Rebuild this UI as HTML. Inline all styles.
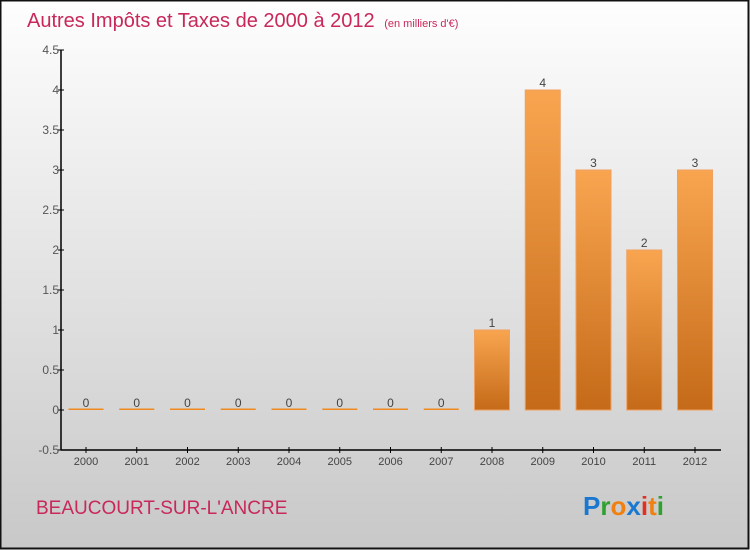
<!DOCTYPE html>
<html><head><meta charset="utf-8"><style>
body{margin:0;width:750px;height:550px;overflow:hidden}
svg{display:block;font-family:"Liberation Sans",sans-serif}
</style></head><body>
<svg width="750" height="550" xmlns="http://www.w3.org/2000/svg">
<defs>
<linearGradient id="bg" x1="0" y1="0" x2="0" y2="1"><stop offset="0" stop-color="#fefefe"/><stop offset="1" stop-color="#c8c8c8"/></linearGradient>
<linearGradient id="bar" x1="0" y1="0" x2="0" y2="1"><stop offset="0" stop-color="#f9a550"/><stop offset="1" stop-color="#c46a18"/></linearGradient>
</defs>
<rect x="0.5" y="0.5" width="748" height="548" fill="url(#bg)" stroke="#111" stroke-width="2"/>
<text x="27" y="27" font-size="20" fill="#c8285a">Autres Impôts et Taxes de 2000 à 2012 <tspan font-size="11" dx="4">(en milliers d'€)</tspan></text>
<g id="axes"></g>
<g id="bars"></g>
<text x="36" y="514" font-size="19" fill="#c8285a">BEAUCOURT-SUR-L'ANCRE</text>
<text x="583" y="515" font-size="26" font-weight="bold"><tspan fill="#1a78d0">P</tspan><tspan fill="#30a030">r</tspan><tspan fill="#f08010">o</tspan><tspan fill="#1a78d0">x</tspan><tspan fill="#e03020">i</tspan><tspan fill="#f08010">t</tspan><tspan fill="#30a030">i</tspan></text>
</svg>
<script>
const categories=["2000","2001","2002","2003","2004","2005","2006","2007","2008","2009","2010","2011","2012"];
const values=[0,0,0,0,0,0,0,0,1,4,3,2,3];
const yTicks=[-0.5,0,0.5,1,1.5,2,2.5,3,3.5,4,4.5];
const yTickLabels=["-0.5","0","0.5","1","1.5","2","2.5","3","3.5","4","4.5"];
const NS="http://www.w3.org/2000/svg";
const y=v=>410-v*80;
const x=i=>86+i*50.75;
function mk(t,a,p){const e=document.createElementNS(NS,t);for(const k in a)e.setAttribute(k,a[k]);p.appendChild(e);return e;}
const ax=document.getElementById('axes'),bg=document.getElementById('bars');
let l=mk('line',{x1:61,y1:y(4.5),x2:61,y2:y(-0.5),stroke:'#000','stroke-width':1.5},ax);


l=mk('line',{x1:61,y1:y(-0.5),x2:721,y2:y(-0.5),stroke:'#000','stroke-width':1.5},ax);


yTicks.forEach((v,i)=>{
 mk('line',{x1:58,x2:64,y1:y(v),y2:y(v),stroke:'#000'},ax);
 const t=mk('text',{x:59,y:y(v)+4,'font-size':12,fill:'#555','text-anchor':'end'},ax);
 t.textContent=yTickLabels[i];
 
 
});
categories.forEach((c,i)=>{
 mk('line',{x1:x(i),x2:x(i),y1:y(-0.5)-3,y2:y(-0.5)+3,stroke:'#000'},ax);
 const t=mk('text',{x:x(i),y:465,'font-size':11,fill:'#444','text-anchor':'middle'},ax);
 t.textContent=c;
 
 
 const v=values[i];
 const h=Math.max(y(0)-y(v),1.5);
 const r=mk('rect',{x:x(i)-17.5,y:y(0)-h,width:35,height:h,fill:v>0?'url(#bar)':'#f08a20',stroke:v>0?'#f0a060':'none','stroke-width':1},bg);
 
 
 const lb=mk('text',{x:x(i),y:y(v)-3,'font-size':12,fill:'#444','text-anchor':'middle'},bg);
 lb.textContent=v;
 
 
});
</script>
</body></html>
